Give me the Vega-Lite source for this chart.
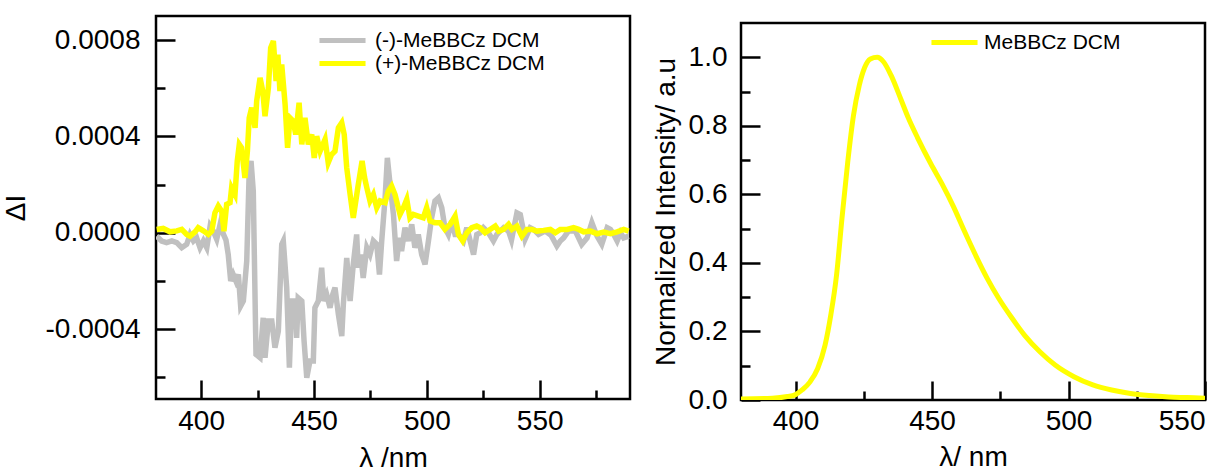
{
"$schema": "https://vega.github.io/schema/vega-lite/v6.json",
"padding": {"left": 0, "top": 14, "right": 0, "bottom": 0},
"spacing": 18,
"config": {
  "view": {"stroke": "#000", "strokeWidth": 2.5},
  "font": "Liberation Sans",
  "axis": {"grid": false, "domain": false, "tickColor": "#000", "tickWidth": 2.5, "labelFont": "Liberation Sans", "labelFontSize": 28, "labelColor": "#000", "titleFont": "Liberation Sans", "titleFontSize": 28, "titleFontWeight": "normal", "titleColor": "#000"},
  "legend": {"labelFont": "Liberation Sans", "labelFontSize": 21, "labelColor": "#000", "padding": 0, "labelLimit": 0}
},
"resolve": {"scale": {"color": "independent", "x": "independent", "y": "independent"}, "legend": {"color": "independent"}},
"hconcat": [
{
  "width": 474, "height": 383,
  "data": {"values": [
{"wl":380.3,"dI":-0.000014,"series":"(-)-MeBBCz DCM"},{"wl":382.5,"dI":-0.000034,"series":"(-)-MeBBCz DCM"},{"wl":384.7,"dI":-0.000041,"series":"(-)-MeBBCz DCM"},{"wl":387.0,"dI":-0.000034,"series":"(-)-MeBBCz DCM"},{"wl":389.2,"dI":-0.000041,"series":"(-)-MeBBCz DCM"},{"wl":391.4,"dI":-0.000062,"series":"(-)-MeBBCz DCM"},{"wl":393.6,"dI":-0.000048,"series":"(-)-MeBBCz DCM"},{"wl":395.1,"dI":-0.000007,"series":"(-)-MeBBCz DCM"},{"wl":396.6,"dI":-0.000034,"series":"(-)-MeBBCz DCM"},{"wl":398.0,"dI":-0.000021,"series":"(-)-MeBBCz DCM"},{"wl":399.5,"dI":-0.000062,"series":"(-)-MeBBCz DCM"},{"wl":401.0,"dI":-0.000034,"series":"(-)-MeBBCz DCM"},{"wl":402.5,"dI":-0.000062,"series":"(-)-MeBBCz DCM"},{"wl":404.0,"dI":0.000028,"series":"(-)-MeBBCz DCM"},{"wl":405.4,"dI":0.000007,"series":"(-)-MeBBCz DCM"},{"wl":406.9,"dI":-0.000027,"series":"(-)-MeBBCz DCM"},{"wl":408.4,"dI":0.000035,"series":"(-)-MeBBCz DCM"},{"wl":409.9,"dI":-0.000007,"series":"(-)-MeBBCz DCM"},{"wl":411.0,"dI":-0.00003,"series":"(-)-MeBBCz DCM"},{"wl":412.0,"dI":-0.00009,"series":"(-)-MeBBCz DCM"},{"wl":413.1,"dI":-0.0002,"series":"(-)-MeBBCz DCM"},{"wl":414.2,"dI":-0.000173,"series":"(-)-MeBBCz DCM"},{"wl":415.4,"dI":-0.0002,"series":"(-)-MeBBCz DCM"},{"wl":416.5,"dI":-0.000173,"series":"(-)-MeBBCz DCM"},{"wl":417.5,"dI":-0.000304,"series":"(-)-MeBBCz DCM"},{"wl":418.7,"dI":-0.000283,"series":"(-)-MeBBCz DCM"},{"wl":420.2,"dI":-0.000117,"series":"(-)-MeBBCz DCM"},{"wl":421.3,"dI":0.000256,"series":"(-)-MeBBCz DCM"},{"wl":422.1,"dI":0.000298,"series":"(-)-MeBBCz DCM"},{"wl":423.1,"dI":0.000173,"series":"(-)-MeBBCz DCM"},{"wl":424.3,"dI":-0.000505,"series":"(-)-MeBBCz DCM"},{"wl":426.1,"dI":-0.000519,"series":"(-)-MeBBCz DCM"},{"wl":427.5,"dI":-0.000353,"series":"(-)-MeBBCz DCM"},{"wl":428.3,"dI":-0.000519,"series":"(-)-MeBBCz DCM"},{"wl":429.8,"dI":-0.000366,"series":"(-)-MeBBCz DCM"},{"wl":431.3,"dI":-0.000366,"series":"(-)-MeBBCz DCM"},{"wl":432.7,"dI":-0.000477,"series":"(-)-MeBBCz DCM"},{"wl":434.2,"dI":-0.000408,"series":"(-)-MeBBCz DCM"},{"wl":435.7,"dI":-0.000048,"series":"(-)-MeBBCz DCM"},{"wl":436.4,"dI":-0.000034,"series":"(-)-MeBBCz DCM"},{"wl":437.9,"dI":-0.000228,"series":"(-)-MeBBCz DCM"},{"wl":439.1,"dI":-0.00056,"series":"(-)-MeBBCz DCM"},{"wl":440.1,"dI":-0.000283,"series":"(-)-MeBBCz DCM"},{"wl":441.6,"dI":-0.000283,"series":"(-)-MeBBCz DCM"},{"wl":442.3,"dI":-0.000436,"series":"(-)-MeBBCz DCM"},{"wl":443.0,"dI":-0.00027,"series":"(-)-MeBBCz DCM"},{"wl":444.6,"dI":-0.000283,"series":"(-)-MeBBCz DCM"},{"wl":445.6,"dI":-0.000449,"series":"(-)-MeBBCz DCM"},{"wl":446.8,"dI":-0.000602,"series":"(-)-MeBBCz DCM"},{"wl":448.2,"dI":-0.000532,"series":"(-)-MeBBCz DCM"},{"wl":449.7,"dI":-0.000532,"series":"(-)-MeBBCz DCM"},{"wl":450.4,"dI":-0.000311,"series":"(-)-MeBBCz DCM"},{"wl":451.9,"dI":-0.000283,"series":"(-)-MeBBCz DCM"},{"wl":453.4,"dI":-0.000145,"series":"(-)-MeBBCz DCM"},{"wl":454.4,"dI":-0.000283,"series":"(-)-MeBBCz DCM"},{"wl":455.6,"dI":-0.000256,"series":"(-)-MeBBCz DCM"},{"wl":457.1,"dI":-0.000311,"series":"(-)-MeBBCz DCM"},{"wl":458.3,"dI":-0.000256,"series":"(-)-MeBBCz DCM"},{"wl":459.3,"dI":-0.000228,"series":"(-)-MeBBCz DCM"},{"wl":460.8,"dI":-0.000339,"series":"(-)-MeBBCz DCM"},{"wl":462.3,"dI":-0.000429,"series":"(-)-MeBBCz DCM"},{"wl":463.0,"dI":-0.000297,"series":"(-)-MeBBCz DCM"},{"wl":464.5,"dI":-0.000104,"series":"(-)-MeBBCz DCM"},{"wl":466.0,"dI":-0.000283,"series":"(-)-MeBBCz DCM"},{"wl":467.4,"dI":-0.000131,"series":"(-)-MeBBCz DCM"},{"wl":468.9,"dI":-0.000007,"series":"(-)-MeBBCz DCM"},{"wl":469.6,"dI":-0.000145,"series":"(-)-MeBBCz DCM"},{"wl":470.7,"dI":-0.00009,"series":"(-)-MeBBCz DCM"},{"wl":471.8,"dI":-0.000187,"series":"(-)-MeBBCz DCM"},{"wl":473.4,"dI":-0.000062,"series":"(-)-MeBBCz DCM"},{"wl":474.8,"dI":-0.00009,"series":"(-)-MeBBCz DCM"},{"wl":476.3,"dI":-0.000034,"series":"(-)-MeBBCz DCM"},{"wl":477.8,"dI":-0.000048,"series":"(-)-MeBBCz DCM"},{"wl":479.0,"dI":-0.000173,"series":"(-)-MeBBCz DCM"},{"wl":480.0,"dI":-0.000034,"series":"(-)-MeBBCz DCM"},{"wl":481.5,"dI":0.000145,"series":"(-)-MeBBCz DCM"},{"wl":482.5,"dI":0.000311,"series":"(-)-MeBBCz DCM"},{"wl":483.7,"dI":0.000201,"series":"(-)-MeBBCz DCM"},{"wl":485.2,"dI":0.000076,"series":"(-)-MeBBCz DCM"},{"wl":486.6,"dI":-0.000117,"series":"(-)-MeBBCz DCM"},{"wl":487.8,"dI":-0.000021,"series":"(-)-MeBBCz DCM"},{"wl":488.8,"dI":-0.000076,"series":"(-)-MeBBCz DCM"},{"wl":490.3,"dI":0.000021,"series":"(-)-MeBBCz DCM"},{"wl":491.8,"dI":-0.000034,"series":"(-)-MeBBCz DCM"},{"wl":493.3,"dI":0.000035,"series":"(-)-MeBBCz DCM"},{"wl":494.7,"dI":-0.000062,"series":"(-)-MeBBCz DCM"},{"wl":496.2,"dI":-0.000007,"series":"(-)-MeBBCz DCM"},{"wl":497.7,"dI":-0.00009,"series":"(-)-MeBBCz DCM"},{"wl":499.2,"dI":-0.000131,"series":"(-)-MeBBCz DCM"},{"wl":500.7,"dI":-0.000034,"series":"(-)-MeBBCz DCM"},{"wl":502.1,"dI":0.000062,"series":"(-)-MeBBCz DCM"},{"wl":503.6,"dI":0.000132,"series":"(-)-MeBBCz DCM"},{"wl":505.1,"dI":0.000145,"series":"(-)-MeBBCz DCM"},{"wl":506.6,"dI":0.000104,"series":"(-)-MeBBCz DCM"},{"wl":508.0,"dI":0.000021,"series":"(-)-MeBBCz DCM"},{"wl":509.5,"dI":-0.000007,"series":"(-)-MeBBCz DCM"},{"wl":511.0,"dI":0.000049,"series":"(-)-MeBBCz DCM"},{"wl":512.5,"dI":-0.000007,"series":"(-)-MeBBCz DCM"},{"wl":514.0,"dI":-0.000007,"series":"(-)-MeBBCz DCM"},{"wl":516.2,"dI":-0.000034,"series":"(-)-MeBBCz DCM"},{"wl":517.7,"dI":0.000021,"series":"(-)-MeBBCz DCM"},{"wl":519.2,"dI":-0.000034,"series":"(-)-MeBBCz DCM"},{"wl":520.7,"dI":-0.00009,"series":"(-)-MeBBCz DCM"},{"wl":522.1,"dI":-0.000007,"series":"(-)-MeBBCz DCM"},{"wl":523.6,"dI":0.0,"series":"(-)-MeBBCz DCM"},{"wl":525.1,"dI":0.000021,"series":"(-)-MeBBCz DCM"},{"wl":527.3,"dI":0.0,"series":"(-)-MeBBCz DCM"},{"wl":529.5,"dI":-0.000034,"series":"(-)-MeBBCz DCM"},{"wl":531.0,"dI":-0.000007,"series":"(-)-MeBBCz DCM"},{"wl":532.5,"dI":0.000007,"series":"(-)-MeBBCz DCM"},{"wl":534.0,"dI":0.000021,"series":"(-)-MeBBCz DCM"},{"wl":536.2,"dI":0.000007,"series":"(-)-MeBBCz DCM"},{"wl":537.5,"dI":-0.00003,"series":"(-)-MeBBCz DCM"},{"wl":539.9,"dI":0.000083,"series":"(-)-MeBBCz DCM"},{"wl":541.4,"dI":0.000076,"series":"(-)-MeBBCz DCM"},{"wl":543.5,"dI":-0.000027,"series":"(-)-MeBBCz DCM"},{"wl":545.8,"dI":0.000021,"series":"(-)-MeBBCz DCM"},{"wl":547.3,"dI":0.000014,"series":"(-)-MeBBCz DCM"},{"wl":549.5,"dI":-0.000007,"series":"(-)-MeBBCz DCM"},{"wl":552.4,"dI":0.000007,"series":"(-)-MeBBCz DCM"},{"wl":555.0,"dI":-0.00001,"series":"(-)-MeBBCz DCM"},{"wl":557.6,"dI":-0.000055,"series":"(-)-MeBBCz DCM"},{"wl":559.1,"dI":-0.000034,"series":"(-)-MeBBCz DCM"},{"wl":560.6,"dI":-0.000021,"series":"(-)-MeBBCz DCM"},{"wl":562.7,"dI":0.000007,"series":"(-)-MeBBCz DCM"},{"wl":565.8,"dI":0.000007,"series":"(-)-MeBBCz DCM"},{"wl":568.6,"dI":-0.000048,"series":"(-)-MeBBCz DCM"},{"wl":571.0,"dI":-0.000021,"series":"(-)-MeBBCz DCM"},{"wl":573.1,"dI":0.000042,"series":"(-)-MeBBCz DCM"},{"wl":575.4,"dI":-0.000014,"series":"(-)-MeBBCz DCM"},{"wl":577.5,"dI":-0.000048,"series":"(-)-MeBBCz DCM"},{"wl":579.9,"dI":0.000021,"series":"(-)-MeBBCz DCM"},{"wl":581.3,"dI":0.000014,"series":"(-)-MeBBCz DCM"},{"wl":582.8,"dI":-0.000007,"series":"(-)-MeBBCz DCM"},{"wl":584.3,"dI":-0.000034,"series":"(-)-MeBBCz DCM"},{"wl":585.8,"dI":0.0,"series":"(-)-MeBBCz DCM"},{"wl":587.2,"dI":-0.000021,"series":"(-)-MeBBCz DCM"},{"wl":589.4,"dI":-0.000014,"series":"(-)-MeBBCz DCM"},
{"wl":380.3,"dI":0.000014,"series":"(+)-MeBBCz DCM"},{"wl":383.2,"dI":0.000018,"series":"(+)-MeBBCz DCM"},{"wl":386.2,"dI":0.000004,"series":"(+)-MeBBCz DCM"},{"wl":389.2,"dI":0.000008,"series":"(+)-MeBBCz DCM"},{"wl":391.4,"dI":0.000014,"series":"(+)-MeBBCz DCM"},{"wl":393.6,"dI":-0.000007,"series":"(+)-MeBBCz DCM"},{"wl":395.1,"dI":-0.000014,"series":"(+)-MeBBCz DCM"},{"wl":397.3,"dI":0.000004,"series":"(+)-MeBBCz DCM"},{"wl":398.7,"dI":0.000021,"series":"(+)-MeBBCz DCM"},{"wl":401.0,"dI":0.000008,"series":"(+)-MeBBCz DCM"},{"wl":403.2,"dI":-0.000007,"series":"(+)-MeBBCz DCM"},{"wl":404.7,"dI":0.000007,"series":"(+)-MeBBCz DCM"},{"wl":406.1,"dI":0.000083,"series":"(+)-MeBBCz DCM"},{"wl":407.6,"dI":0.000111,"series":"(+)-MeBBCz DCM"},{"wl":409.1,"dI":0.00009,"series":"(+)-MeBBCz DCM"},{"wl":410.1,"dI":0.000007,"series":"(+)-MeBBCz DCM"},{"wl":411.3,"dI":0.000118,"series":"(+)-MeBBCz DCM"},{"wl":412.8,"dI":0.000125,"series":"(+)-MeBBCz DCM"},{"wl":413.5,"dI":0.000187,"series":"(+)-MeBBCz DCM"},{"wl":415.0,"dI":0.000159,"series":"(+)-MeBBCz DCM"},{"wl":416.0,"dI":0.000298,"series":"(+)-MeBBCz DCM"},{"wl":416.9,"dI":0.000367,"series":"(+)-MeBBCz DCM"},{"wl":417.9,"dI":0.000353,"series":"(+)-MeBBCz DCM"},{"wl":419.4,"dI":0.000228,"series":"(+)-MeBBCz DCM"},{"wl":420.5,"dI":0.000339,"series":"(+)-MeBBCz DCM"},{"wl":421.3,"dI":0.000477,"series":"(+)-MeBBCz DCM"},{"wl":422.4,"dI":0.000519,"series":"(+)-MeBBCz DCM"},{"wl":423.9,"dI":0.000436,"series":"(+)-MeBBCz DCM"},{"wl":424.6,"dI":0.000547,"series":"(+)-MeBBCz DCM"},{"wl":426.1,"dI":0.000643,"series":"(+)-MeBBCz DCM"},{"wl":427.3,"dI":0.000588,"series":"(+)-MeBBCz DCM"},{"wl":428.3,"dI":0.000484,"series":"(+)-MeBBCz DCM"},{"wl":429.8,"dI":0.000602,"series":"(+)-MeBBCz DCM"},{"wl":430.8,"dI":0.000768,"series":"(+)-MeBBCz DCM"},{"wl":432.0,"dI":0.000796,"series":"(+)-MeBBCz DCM"},{"wl":433.2,"dI":0.00063,"series":"(+)-MeBBCz DCM"},{"wl":434.0,"dI":0.00074,"series":"(+)-MeBBCz DCM"},{"wl":434.9,"dI":0.000588,"series":"(+)-MeBBCz DCM"},{"wl":435.7,"dI":0.000699,"series":"(+)-MeBBCz DCM"},{"wl":437.2,"dI":0.000533,"series":"(+)-MeBBCz DCM"},{"wl":438.3,"dI":0.000353,"series":"(+)-MeBBCz DCM"},{"wl":439.4,"dI":0.000477,"series":"(+)-MeBBCz DCM"},{"wl":440.8,"dI":0.000464,"series":"(+)-MeBBCz DCM"},{"wl":441.9,"dI":0.000408,"series":"(+)-MeBBCz DCM"},{"wl":443.4,"dI":0.00054,"series":"(+)-MeBBCz DCM"},{"wl":444.6,"dI":0.000367,"series":"(+)-MeBBCz DCM"},{"wl":446.0,"dI":0.000477,"series":"(+)-MeBBCz DCM"},{"wl":447.5,"dI":0.000367,"series":"(+)-MeBBCz DCM"},{"wl":449.0,"dI":0.000408,"series":"(+)-MeBBCz DCM"},{"wl":450.1,"dI":0.000311,"series":"(+)-MeBBCz DCM"},{"wl":451.2,"dI":0.000401,"series":"(+)-MeBBCz DCM"},{"wl":452.7,"dI":0.000339,"series":"(+)-MeBBCz DCM"},{"wl":454.9,"dI":0.000388,"series":"(+)-MeBBCz DCM"},{"wl":456.3,"dI":0.000291,"series":"(+)-MeBBCz DCM"},{"wl":457.8,"dI":0.000325,"series":"(+)-MeBBCz DCM"},{"wl":459.3,"dI":0.000339,"series":"(+)-MeBBCz DCM"},{"wl":460.8,"dI":0.000436,"series":"(+)-MeBBCz DCM"},{"wl":462.3,"dI":0.000457,"series":"(+)-MeBBCz DCM"},{"wl":463.4,"dI":0.000408,"series":"(+)-MeBBCz DCM"},{"wl":464.5,"dI":0.00027,"series":"(+)-MeBBCz DCM"},{"wl":466.0,"dI":0.000159,"series":"(+)-MeBBCz DCM"},{"wl":467.4,"dI":0.000062,"series":"(+)-MeBBCz DCM"},{"wl":469.4,"dI":0.000187,"series":"(+)-MeBBCz DCM"},{"wl":471.3,"dI":0.000298,"series":"(+)-MeBBCz DCM"},{"wl":472.4,"dI":0.00023,"series":"(+)-MeBBCz DCM"},{"wl":473.4,"dI":0.000187,"series":"(+)-MeBBCz DCM"},{"wl":474.8,"dI":0.000132,"series":"(+)-MeBBCz DCM"},{"wl":476.3,"dI":0.000159,"series":"(+)-MeBBCz DCM"},{"wl":477.8,"dI":0.000104,"series":"(+)-MeBBCz DCM"},{"wl":479.3,"dI":0.000132,"series":"(+)-MeBBCz DCM"},{"wl":481.5,"dI":0.000125,"series":"(+)-MeBBCz DCM"},{"wl":482.9,"dI":0.000173,"series":"(+)-MeBBCz DCM"},{"wl":484.4,"dI":0.000194,"series":"(+)-MeBBCz DCM"},{"wl":485.9,"dI":0.000159,"series":"(+)-MeBBCz DCM"},{"wl":488.1,"dI":0.000076,"series":"(+)-MeBBCz DCM"},{"wl":489.6,"dI":0.000104,"series":"(+)-MeBBCz DCM"},{"wl":491.1,"dI":0.000139,"series":"(+)-MeBBCz DCM"},{"wl":492.5,"dI":0.000062,"series":"(+)-MeBBCz DCM"},{"wl":494.0,"dI":0.000076,"series":"(+)-MeBBCz DCM"},{"wl":496.2,"dI":0.000069,"series":"(+)-MeBBCz DCM"},{"wl":498.4,"dI":0.000062,"series":"(+)-MeBBCz DCM"},{"wl":499.9,"dI":0.000104,"series":"(+)-MeBBCz DCM"},{"wl":501.4,"dI":0.000049,"series":"(+)-MeBBCz DCM"},{"wl":503.6,"dI":0.000042,"series":"(+)-MeBBCz DCM"},{"wl":505.8,"dI":0.000042,"series":"(+)-MeBBCz DCM"},{"wl":508.0,"dI":0.000014,"series":"(+)-MeBBCz DCM"},{"wl":510.3,"dI":0.000035,"series":"(+)-MeBBCz DCM"},{"wl":512.5,"dI":0.000069,"series":"(+)-MeBBCz DCM"},{"wl":514.0,"dI":-0.000007,"series":"(+)-MeBBCz DCM"},{"wl":515.9,"dI":-0.000034,"series":"(+)-MeBBCz DCM"},{"wl":517.7,"dI":0.0,"series":"(+)-MeBBCz DCM"},{"wl":519.9,"dI":0.000021,"series":"(+)-MeBBCz DCM"},{"wl":522.1,"dI":0.000028,"series":"(+)-MeBBCz DCM"},{"wl":523.6,"dI":0.000021,"series":"(+)-MeBBCz DCM"},{"wl":525.8,"dI":0.0,"series":"(+)-MeBBCz DCM"},{"wl":528.0,"dI":0.000014,"series":"(+)-MeBBCz DCM"},{"wl":530.3,"dI":0.000028,"series":"(+)-MeBBCz DCM"},{"wl":531.8,"dI":0.000007,"series":"(+)-MeBBCz DCM"},{"wl":534.0,"dI":0.000014,"series":"(+)-MeBBCz DCM"},{"wl":536.2,"dI":0.000035,"series":"(+)-MeBBCz DCM"},{"wl":537.7,"dI":0.000014,"series":"(+)-MeBBCz DCM"},{"wl":539.9,"dI":0.000028,"series":"(+)-MeBBCz DCM"},{"wl":542.1,"dI":-0.000014,"series":"(+)-MeBBCz DCM"},{"wl":544.3,"dI":0.000014,"series":"(+)-MeBBCz DCM"},{"wl":546.5,"dI":0.000014,"series":"(+)-MeBBCz DCM"},{"wl":548.8,"dI":0.000007,"series":"(+)-MeBBCz DCM"},{"wl":551.7,"dI":0.00001,"series":"(+)-MeBBCz DCM"},{"wl":554.7,"dI":0.000014,"series":"(+)-MeBBCz DCM"},{"wl":556.9,"dI":0.0,"series":"(+)-MeBBCz DCM"},{"wl":559.1,"dI":0.000014,"series":"(+)-MeBBCz DCM"},{"wl":562.1,"dI":0.000014,"series":"(+)-MeBBCz DCM"},{"wl":565.0,"dI":0.000021,"series":"(+)-MeBBCz DCM"},{"wl":567.3,"dI":0.000014,"series":"(+)-MeBBCz DCM"},{"wl":569.5,"dI":0.000004,"series":"(+)-MeBBCz DCM"},{"wl":572.5,"dI":0.000007,"series":"(+)-MeBBCz DCM"},{"wl":575.4,"dI":-0.000004,"series":"(+)-MeBBCz DCM"},{"wl":578.4,"dI":0.000003,"series":"(+)-MeBBCz DCM"},{"wl":581.3,"dI":-0.000004,"series":"(+)-MeBBCz DCM"},{"wl":584.3,"dI":0.000004,"series":"(+)-MeBBCz DCM"},{"wl":587.2,"dI":0.000014,"series":"(+)-MeBBCz DCM"},{"wl":589.4,"dI":0.000007,"series":"(+)-MeBBCz DCM"}
  ]},
  "layer": [
    {
      "mark": {"type": "line", "strokeWidth": 5.5, "clip": true},
      "encoding": {
        "x": {"field": "wl", "type": "quantitative", "scale": {"domain": [380, 590], "nice": false, "zero": false},
              "axis": {"values": [400, 450, 500, 550], "tickSize": -19, "labelPadding": 27, "title": "λ /nm", "titlePadding": 9}},
        "y": {"field": "dI", "type": "quantitative", "scale": {"domain": [-0.00069, 0.0009], "nice": false, "zero": false},
              "axis": {"values": [-0.0004, 0, 0.0004, 0.0008], "tickSize": -19, "labelPadding": 35,
                       "labelExpr": "datum.value < 0 ? '-' + format(-datum.value, '.4f') : format(datum.value, '.4f')",
                       "title": "ΔI", "titlePadding": 15}},
        "color": {"field": "series", "type": "nominal",
                  "scale": {"domain": ["(-)-MeBBCz DCM", "(+)-MeBBCz DCM"], "range": ["#c0c0c0", "#ffff00"]},
                  "legend": {"orient": "none", "legendX": 176, "legendY": 14, "title": null, "symbolType": "M-3,0H3", "symbolSize": 236, "symbolStrokeWidth": 5, "labelOffset": 22, "rowPadding": 1}}
      }
    },
    {
      "mark": {"type": "line", "opacity": 0},
      "encoding": {
        "x": {"field": "wl", "type": "quantitative", "axis": {"orient": "bottom", "values": [425, 475, 525, 575], "tickSize": -9, "labels": false, "title": null}},
        "y": {"field": "dI", "type": "quantitative", "axis": {"orient": "left", "values": [-0.0006, -0.0002, 0.0002, 0.0006], "tickSize": -9, "labels": false, "title": null}}
      }
    }
  ],
  "resolve": {"axis": {"x": "independent", "y": "independent"}}
},
{
  "spacing": 0,
  "vconcat": [
    {
      "width": 464, "height": 5,
      "view": {"stroke": "transparent", "strokeWidth": 0},
      "data": {"values": []},
      "mark": {"type": "point"}
    },
    {
      "width": 464, "height": 377,
      "data": {"values": [
{"wl":380,"I":0.003,"series":"MeBBCz DCM"},{"wl":391.5,"I":0.005,"series":"MeBBCz DCM"},{"wl":397,"I":0.01,"series":"MeBBCz DCM"},{"wl":399.8,"I":0.015,"series":"MeBBCz DCM"},{"wl":402.5,"I":0.03,"series":"MeBBCz DCM"},{"wl":405.3,"I":0.053,"series":"MeBBCz DCM"},{"wl":408.1,"I":0.092,"series":"MeBBCz DCM"},{"wl":410.8,"I":0.16,"series":"MeBBCz DCM"},{"wl":412.9,"I":0.248,"series":"MeBBCz DCM"},{"wl":415,"I":0.364,"series":"MeBBCz DCM"},{"wl":417,"I":0.53,"series":"MeBBCz DCM"},{"wl":419.1,"I":0.694,"series":"MeBBCz DCM"},{"wl":421.2,"I":0.83,"series":"MeBBCz DCM"},{"wl":423.3,"I":0.917,"series":"MeBBCz DCM"},{"wl":425.3,"I":0.97,"series":"MeBBCz DCM"},{"wl":427.4,"I":0.995,"series":"MeBBCz DCM"},{"wl":429.9,"I":1.0,"series":"MeBBCz DCM"},{"wl":432.2,"I":0.987,"series":"MeBBCz DCM"},{"wl":435,"I":0.947,"series":"MeBBCz DCM"},{"wl":438.5,"I":0.879,"series":"MeBBCz DCM"},{"wl":441.2,"I":0.825,"series":"MeBBCz DCM"},{"wl":444.7,"I":0.765,"series":"MeBBCz DCM"},{"wl":449.5,"I":0.69,"series":"MeBBCz DCM"},{"wl":453.7,"I":0.63,"series":"MeBBCz DCM"},{"wl":457.8,"I":0.565,"series":"MeBBCz DCM"},{"wl":462,"I":0.49,"series":"MeBBCz DCM"},{"wl":466.1,"I":0.42,"series":"MeBBCz DCM"},{"wl":470.2,"I":0.355,"series":"MeBBCz DCM"},{"wl":474.4,"I":0.297,"series":"MeBBCz DCM"},{"wl":479.2,"I":0.24,"series":"MeBBCz DCM"},{"wl":484,"I":0.188,"series":"MeBBCz DCM"},{"wl":489.6,"I":0.14,"series":"MeBBCz DCM"},{"wl":495.1,"I":0.102,"series":"MeBBCz DCM"},{"wl":502,"I":0.068,"series":"MeBBCz DCM"},{"wl":508.9,"I":0.044,"series":"MeBBCz DCM"},{"wl":515.8,"I":0.029,"series":"MeBBCz DCM"},{"wl":522.7,"I":0.019,"series":"MeBBCz DCM"},{"wl":529.7,"I":0.013,"series":"MeBBCz DCM"},{"wl":536.6,"I":0.009,"series":"MeBBCz DCM"},{"wl":543.5,"I":0.007,"series":"MeBBCz DCM"},{"wl":550,"I":0.005,"series":"MeBBCz DCM"}
      ]},
      "layer": [
        {
          "mark": {"type": "line", "strokeWidth": 5, "interpolate": "monotone", "clip": true},
          "encoding": {
            "x": {"field": "wl", "type": "quantitative", "scale": {"domain": [380, 550], "nice": false, "zero": false},
                  "axis": {"values": [400, 450, 500, 550], "tickSize": -19, "labelPadding": 26, "title": "λ/ nm", "titlePadding": 8}},
            "y": {"field": "I", "type": "quantitative", "scale": {"domain": [0, 1.1], "nice": false},
                  "axis": {"values": [0, 0.2, 0.4, 0.6, 0.8, 1.0], "format": ".1f", "tickSize": -19, "labelPadding": 33, "title": "Normalized Intensity/ a.u", "titlePadding": 8}},
            "color": {"field": "series", "type": "nominal",
                      "scale": {"domain": ["MeBBCz DCM"], "range": ["#ffff00"]},
                      "legend": {"orient": "none", "legendX": 203, "legendY": 16, "title": null, "symbolType": "M-3,0H3", "symbolSize": 236, "symbolStrokeWidth": 5, "labelOffset": 19, "rowPadding": 0}}
          }
        },
        {
          "mark": {"type": "line", "opacity": 0},
          "encoding": {
            "x": {"field": "wl", "type": "quantitative", "axis": {"orient": "bottom", "values": [425, 475, 525], "tickSize": -9, "labels": false, "title": null}},
            "y": {"field": "I", "type": "quantitative", "axis": {"orient": "left", "values": [0.1, 0.3, 0.5, 0.7, 0.9], "tickSize": -9, "labels": false, "title": null}}
          }
        }
      ],
      "resolve": {"axis": {"x": "independent", "y": "independent"}}
    }
  ]
}
]
}
